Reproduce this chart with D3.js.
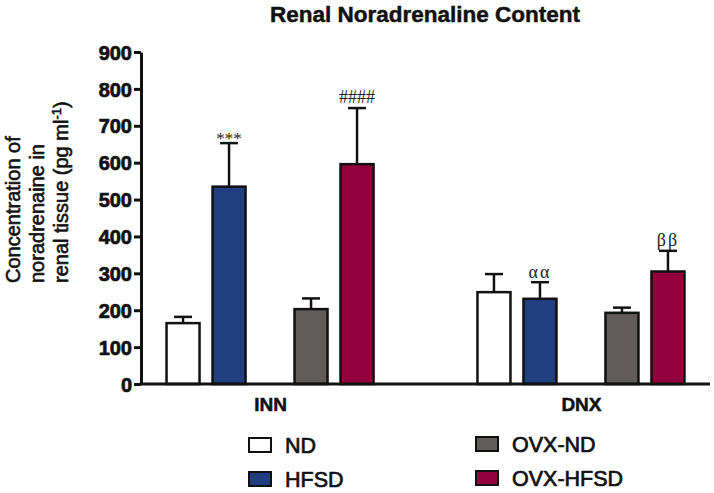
<!DOCTYPE html>
<html>
<head>
<meta charset="utf-8">
<script src="https://cdn.jsdelivr.net/npm/d3@7"></script>
<style>
  html, body { margin: 0; padding: 0; background: #ffffff; }
  svg { display: block; }
</style>
</head>
<body>
<svg id="chart" width="714" height="493"></svg>
<script>
// ---------- data ----------
const groups = ["INN", "DNX"];
const series = ["ND", "HFSD", "OVX-ND", "OVX-HFSD"];
const seriesColors = ["#ffffff", "#213f80", "#615c5a", "#94003b"];
const innMeans = [165, 535, 203, 596];
const innSEM   = [17, 118, 29, 152];
const dnxMeans = [249, 231, 193, 305];
const dnxSEM   = [49, 45, 14, 56];
const innMarks = ["", "***", "", "####"];
const dnxMarks = ["", "αα", "", "ββ"];
const yTicks = [0, 100, 200, 300, 400, 500, 600, 700, 800, 900];
const chartTitle = "Renal Noradrenaline Content";
const yLabelLines = ["Concentration of", "noradrenaine in", "renal tissue (pg ml"];

// ---------- build table ----------
const means = { INN: innMeans, DNX: dnxMeans };
const sems = { INN: innSEM, DNX: dnxSEM };
const marks = { INN: innMarks, DNX: dnxMarks };
const rows = [];
groups.forEach(g => series.forEach((s, i) => rows.push({
  group: g, series: s, idx: i,
  pair: s.startsWith("OVX") ? "OVX" : "Intact",
  diet: s.endsWith("HFSD") ? "HFSD" : "ND",
  mean: means[g][i], sem: sems[g][i], mark: marks[g][i]
})));

const svg = d3.select("#chart");
const mLeft = 141, mRight = 710, mTop = 52, mBottom = 384;
const SANS = "Liberation Sans, Arial, Helvetica, sans-serif";
const SERIF = "Liberation Serif, Times New Roman, serif";

const x = d3.scalePoint().domain(groups).range([mLeft, mRight]).padding(0.415);
const xPair = d3.scalePoint().domain(["Intact", "OVX"]).range([-64, 64]);
const xDiet = d3.scalePoint().domain(["ND", "HFSD"]).range([-23, 23]);
const y = d3.scaleLinear().domain([0, 900]).range([mBottom, mTop]);
const color = d3.scaleOrdinal().domain(series).range(seriesColors);
const barW = 33;
const capHalf = 9;
const cx = d => x(d.group) + xPair(d.pair) + xDiet(d.diet);

function heavy(sel, w) {
  sel.attr("stroke", "#111").attr("stroke-width", w).attr("paint-order", "stroke")
     .attr("stroke-linejoin", "round");
}

// title
svg.append("text")
  .attr("x", 425).attr("y", 22)
  .attr("text-anchor", "middle")
  .attr("font-family", SANS)
  .attr("font-weight", "bold").attr("font-size", 22.5)
  .attr("fill", "#111")
  .call(heavy, 0.5)
  .text(chartTitle);

// y label
const yl = svg.append("g").attr("transform", "translate(0,283) rotate(-90)");
yLabelLines.forEach((t, i) => {
  const tx = yl.append("text")
    .attr("x", 0).attr("y", 20 + i * 24)
    .attr("font-family", SANS)
    .attr("font-size", 20).attr("fill", "#111")
    .call(heavy, 0.6)
    .text(t);
  if (i === yLabelLines.length - 1) {
    tx.append("tspan").attr("dy", -7).attr("font-size", 13).text("-1");
    tx.append("tspan").attr("dy", 7).text(")");
  }
});

// error bars
const eb = svg.append("g").attr("stroke", "#111").attr("stroke-width", 2.5).attr("fill", "none");
eb.selectAll("line.v").data(rows).join("line").attr("class", "v")
  .attr("x1", cx).attr("x2", cx)
  .attr("y1", d => y(d.mean)).attr("y2", d => y(d.mean + d.sem));
eb.selectAll("line.c").data(rows).join("line").attr("class", "c")
  .attr("x1", d => cx(d) - capHalf).attr("x2", d => cx(d) + capHalf)
  .attr("y1", d => y(d.mean + d.sem)).attr("y2", d => y(d.mean + d.sem));

// bars
svg.append("g").selectAll("rect").data(rows).join("rect")
  .attr("x", d => cx(d) - barW / 2)
  .attr("width", barW)
  .attr("y", d => y(d.mean))
  .attr("height", d => y(0) - y(d.mean))
  .attr("fill", d => color(d.series))
  .attr("stroke", "#111").attr("stroke-width", 2.5);

// significance marks
svg.append("g").selectAll("text").data(rows.filter(d => d.mark)).join("text")
  .attr("x", cx)
  .attr("y", d => y(d.mean + d.sem) - (d.mark.startsWith("*") ? -1 : d.mark.startsWith("α") ? 4 : 5))
  .attr("text-anchor", "middle")
  .attr("font-family", SERIF)
  .attr("font-size", d => d.mark.startsWith("*") ? 17 : 18).attr("fill", "#222")
  .attr("letter-spacing", d => d.mark.startsWith("#") || d.mark.startsWith("*") ? 0 : 2)
  .text(d => d.mark);

// y axis
const yAxis = svg.append("g").attr("transform", `translate(${mLeft},0)`)
  .call(d3.axisLeft(y).tickValues(yTicks).tickSize(7).tickPadding(2).tickSizeOuter(0));
yAxis.select(".domain").attr("stroke", "#111").attr("stroke-width", 3);
yAxis.selectAll(".tick line").attr("stroke", "#111").attr("stroke-width", 3);
yAxis.selectAll(".tick text")
  .attr("font-family", SANS)
  .attr("font-weight", "bold").attr("font-size", 20).attr("fill", "#111")
  .call(heavy, 0.7)
  .attr("dy", "0.36em");

// x axis
const xAxis = svg.append("g").attr("transform", `translate(0,${mBottom})`)
  .call(d3.axisBottom(x).tickSize(0).tickPadding(14).tickSizeOuter(0));
xAxis.select(".domain").attr("stroke", "#111").attr("stroke-width", 3)
  .attr("d", `M${mLeft - 1.5},0H${mRight}`);
xAxis.selectAll(".tick text")
  .attr("font-family", SANS)
  .attr("font-weight", "bold").attr("font-size", 19).attr("fill", "#111")
  .call(heavy, 0.5)
  .attr("dy", "0.71em");

// legend
const legendPos = [
  { s: "ND", col: 0, row: 0 }, { s: "HFSD", col: 0, row: 1 },
  { s: "OVX-ND", col: 1, row: 0 }, { s: "OVX-HFSD", col: 1, row: 1 }
];
const leg = svg.append("g").attr("transform", "translate(249,438)");
const li = leg.selectAll("g").data(legendPos).join("g")
  .attr("transform", d => `translate(${d.col * 227},${d.row * 34 - d.col * 1})`);
li.append("rect").attr("width", 22).attr("height", 14)
  .attr("fill", d => color(d.s)).attr("stroke", "#111").attr("stroke-width", 2);
li.append("text").attr("x", 36).attr("y", 15)
  .attr("font-family", SANS)
  .attr("font-size", 21.5).attr("fill", "#111")
  .call(heavy, 0.7)
  .text(d => d.s);
</script>
</body>
</html>
